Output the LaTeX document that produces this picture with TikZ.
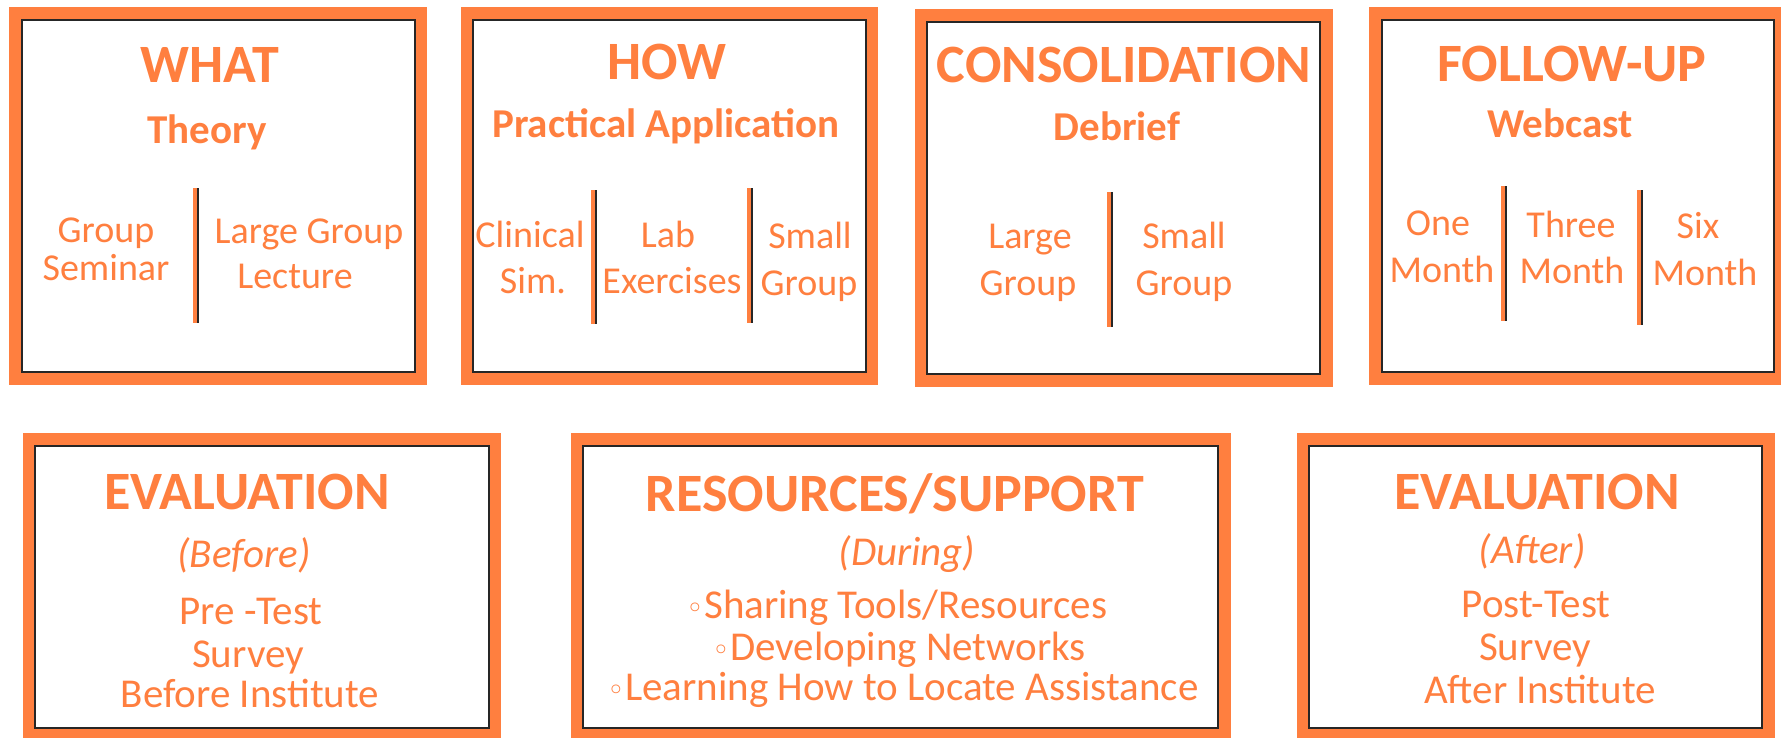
\documentclass[tikz,border=0pt]{standalone}
\usepackage{fontspec}
\setmainfont{Carlito}
\newfontfamily\symfont{DejaVu Sans}
\definecolor{frameorange}{RGB}{255,127,63}
\newcommand\ringbullet{{\fontsize{30}{30}\selectfont\symfont ◦}}
\begin{document}
\begin{tikzpicture}[x=1pt,y=-1pt,
  every node/.style={inner sep=0pt, outer sep=0pt, anchor=base, text=frameorange},
  ttl/.style={font=\fontsize{54}{60}\selectfont\bfseries},
  sub/.style={font=\fontsize{41}{46}\selectfont\bfseries},
  col/.style={font=\fontsize{38}{44}\selectfont},
  btl/.style={font=\fontsize{54}{60}\selectfont\bfseries},
  itl/.style={font=\fontsize{41}{46}\selectfont\itshape},
  bln/.style={font=\fontsize{41}{46}\selectfont},
  outerframe/.style={fill=frameorange},
  innerpanel/.style={fill=white, draw=black!85, line width=2.2pt},
  barorange/.style={draw=frameorange, line width=4pt},
  barblack/.style={draw=black!85, line width=1.4pt}]

\useasboundingbox (0,0) rectangle (1781,737);

% ---- panel frames ----
\path[outerframe] (9,7) rectangle (427,385);
\path[innerpanel] (22,20) rectangle (415,372);
\path[outerframe] (461,7) rectangle (878,385);
\path[innerpanel] (473,20) rectangle (866,372);
\path[outerframe] (915,9) rectangle (1333,387);
\path[innerpanel] (927,22) rectangle (1320,374);
\path[outerframe] (1369,7) rectangle (1795,385);
\path[innerpanel] (1382,20) rectangle (1774,372);
\path[outerframe] (23,433) rectangle (501,750);
\path[innerpanel] (35,446) rectangle (489,728);
\path[outerframe] (571,433) rectangle (1231,750);
\path[innerpanel] (583,446) rectangle (1218,728);
\path[outerframe] (1297,433) rectangle (1775,750);
\path[innerpanel] (1309,446) rectangle (1762,728);

% ---- column dividers: orange bar with a dark edge ----
\foreach \x/\ya/\yb in {196/188/323, 594/190/324, 750/188/323, 1110/192/327, 1504/186/321, 1640/190/325}{
  \draw[barorange] (\x-1,\ya) -- (\x-1,\yb);
  \draw[barblack] (\x+2,\ya) -- (\x+2,\yb);
}

% ---- WHAT ----
\node[ttl] (whatT) at (210,82) {WHAT};
\node[sub] (whatS) at (207,143) {Theory};
\node[col] (whatA1) at (106,242) {Group};
\node[col] (whatA2) at (106,280) {Seminar};
\node[col] (whatB1) at (309,243) {Large Group};
\node[col] (whatB2) at (295,288) {Lecture};

% ---- HOW ----
\node[ttl] (howT) at (667,79) {HOW};
\node[sub] (howS) at (666,137) {Practical Application};
\node[col] (howA1) at (530,247) {Clinical};
\node[col] (howA2) at (533,293) {Sim.};
\node[col] (howB1) at (668,247) {Lab};
\node[col] (howB2) at (672,293) {Exercises};
\node[col] (howC1) at (810,248) {Small};
\node[col] (howC2) at (809,295) {Group};

% ---- CONSOLIDATION ----
\node[ttl] (conT) at (1124,82) {CONSOLIDATION};
\node[sub] (conS) at (1117,140) {Debrief};
\node[col] (conA1) at (1030,248) {Large};
\node[col] (conA2) at (1028,295) {Group};
\node[col] (conB1) at (1184,248) {Small};
\node[col] (conB2) at (1184,295) {Group};

% ---- FOLLOW-UP ----
\node[ttl] (folT) at (1572,81) {FOLLOW-UP};
\node[sub] (folS) at (1560,137) {Webcast};
\node[col] (folA1) at (1438,235) {One};
\node[col] (folA2) at (1442,282) {Month};
\node[col] (folB1) at (1571,237) {Three};
\node[col] (folB2) at (1572,283) {Month};
\node[col] (folC1) at (1698,238) {Six};
\node[col] (folC2) at (1705,285) {Month};

% ---- EVALUATION (before) ----
\node[btl] (evbT) at (247,509) {EVALUATION};
\node[itl] (evbS) at (244,567) {(Before)};
\node[bln] (evb1) at (251,624) {Pre -Test};
\node[bln] (evb2) at (248,667) {Survey};
\node[bln] (evb3) at (250,707) {Before Institute};

% ---- RESOURCES/SUPPORT ----
\node[btl] (resT) at (895,511) {RESOURCES/SUPPORT};
\node[itl] (resS) at (907,565) {(During)};
\node[bln] (res1) at (897,618) {\ringbullet Sharing Tools/Resources};
\node[bln] (res2) at (899,660) {\ringbullet Developing Networks};
\node[bln] (res3) at (903,700) {\ringbullet Learning How to Locate Assistance};

% ---- EVALUATION (after) ----
\node[btl] (evaT) at (1537,509) {EVALUATION};
\node[itl] (evaS) at (1532,563) {(After)};
\node[bln] (eva1) at (1536,617) {Post-Test};
\node[bln] (eva2) at (1535,660) {Survey};
\node[bln] (eva3) at (1540,703) {After Institute};
\end{tikzpicture}
\end{document}
